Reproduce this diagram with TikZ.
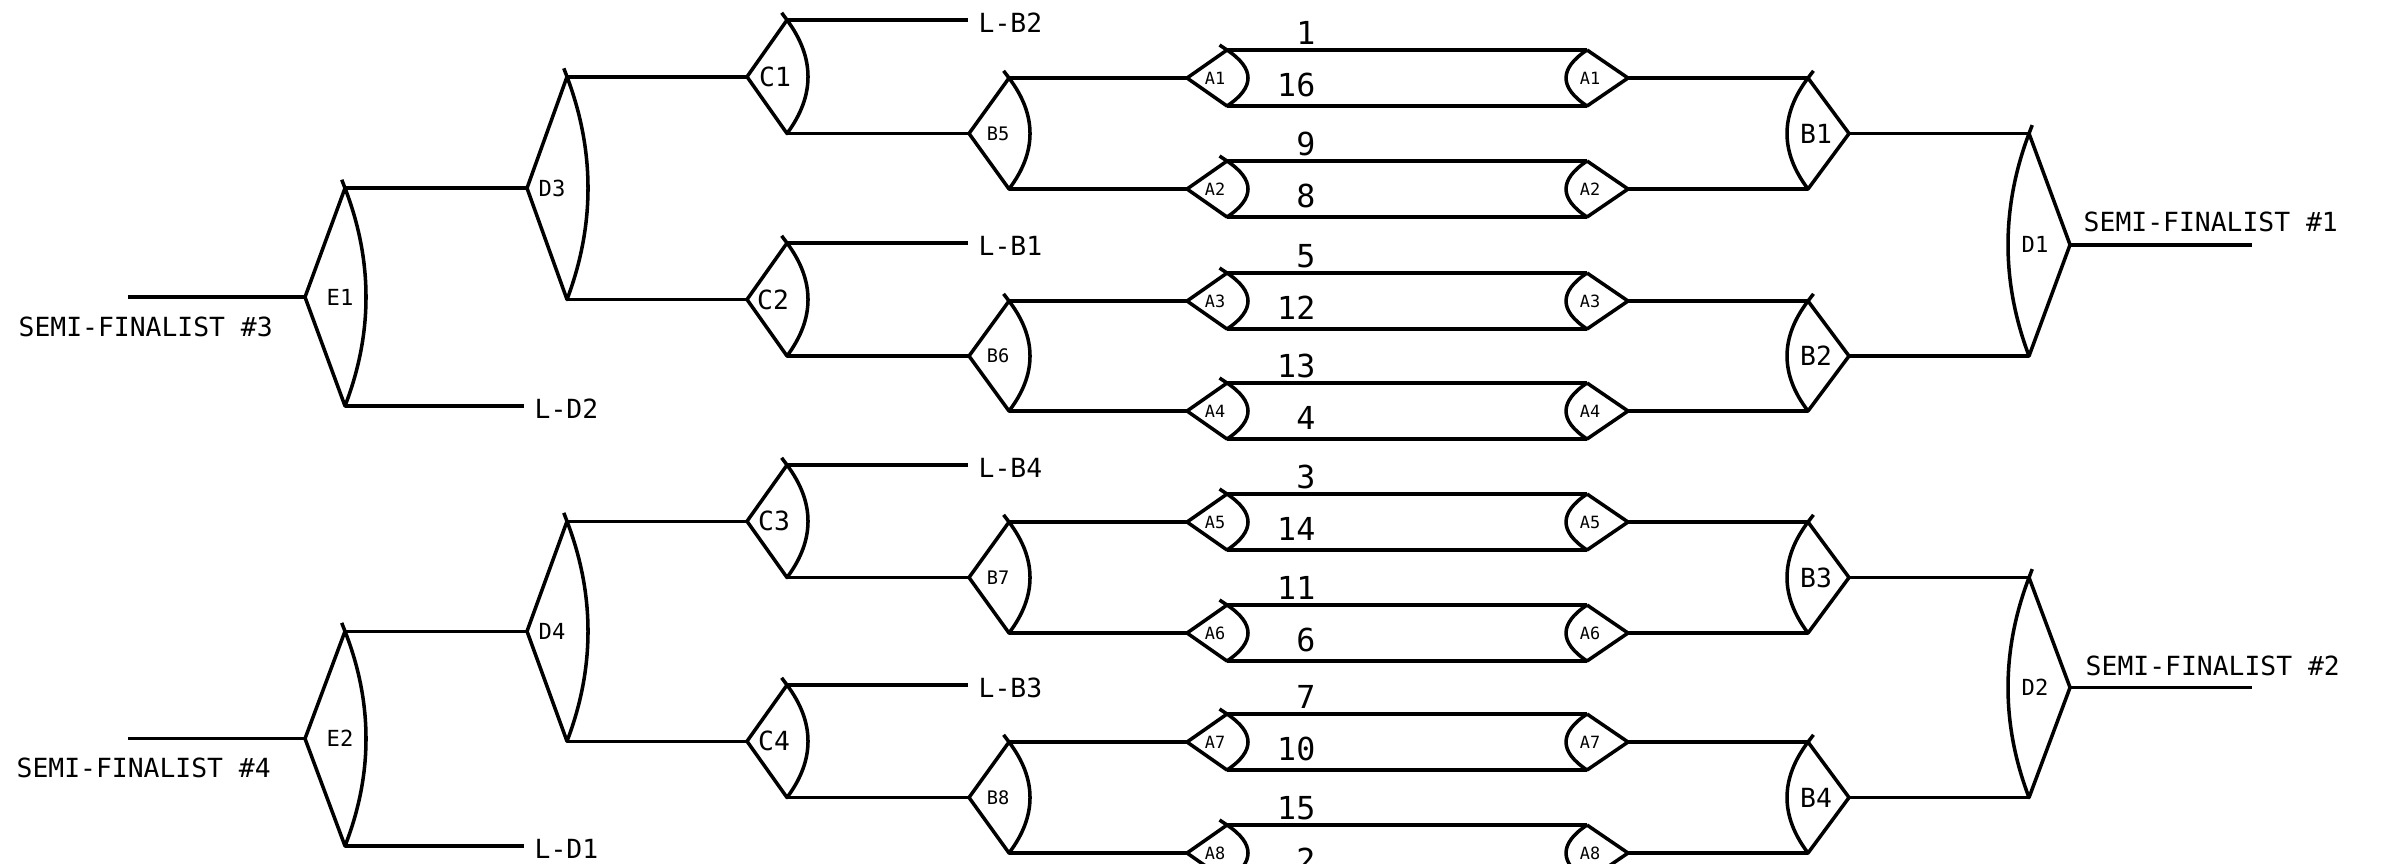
\documentclass[tikz,border=0pt]{standalone}
\usepackage{fontspec}
\newfontfamily\plotfont{DejaVu Sans Mono}
% left-facing game: tip on the left, arc on the right
\newcommand{\gameL}[7]{%
  \pgfmathsetmacro{\gmid}{((#4)+(#5))/2}%
  \pgfmathsetmacro{\gvx}{(#3)+40}%
  \pgfmathsetmacro{\gca}{(2*(#4)+(#5))/3}%
  \pgfmathsetmacro{\gcb}{((#4)+2*(#5))/3}%
  \pgfmathsetmacro{\glen}{sqrt(28*28+(((#5)-(#4))/3)^2)}%
  \pgfmathsetmacro{\gtx}{\gvx-9*28/\glen}%
  \pgfmathsetmacro{\gty}{(#4)-9*(((#5)-(#4))/3)/\glen}%
  \coordinate (#1-tip) at (#3,\gmid);
  \coordinate (#1-t) at (\gvx,#4);
  \coordinate (#1-b) at (\gvx,#5);
  \draw[game] (#1-t) -- (#1-tip) -- (#1-b) .. controls ({\gvx+28},\gcb) and ({\gvx+28},\gca) .. (#1-t) -- (\gtx,\gty);
  \node[#6] (#1) at ({(#3)+(#7)},\gmid) {#2};
}
% right-facing game: arc on the left, tip on the right
\newcommand{\gameR}[8]{%
  \pgfmathsetmacro{\gmid}{((#4)+(#5))/2}%
  \pgfmathsetmacro{\gca}{(2*(#4)+(#5))/3}%
  \pgfmathsetmacro{\gcb}{((#4)+2*(#5))/3}%
  \pgfmathsetmacro{\glen}{sqrt(28*28+(((#5)-(#4))/3)^2)}%
  \pgfmathsetmacro{\gtx}{(#3)+(#8)*28/\glen}%
  \pgfmathsetmacro{\gty}{(#4)-(#8)*(((#5)-(#4))/3)/\glen}%
  \coordinate (#1-t) at (#3,#4);
  \coordinate (#1-b) at (#3,#5);
  \coordinate (#1-tip) at ({(#3)+41},\gmid);
  \draw[game] (#1-t) -- (#1-tip) -- (#1-b) .. controls ({(#3)-28},\gcb) and ({(#3)-28},\gca) .. (#1-t) -- (\gtx,\gty);
  \node[#6] (#1) at ({(#3)+(#7)},\gmid) {#2};
}
\tikzset{
  wire/.style={line width=1pt},
  game/.style={line width=1pt, line join=round},
  lbl/.style={inner sep=0pt, font=\plotfont\fontsize{7.5}{8.5}\selectfont},
  elbl/.style={inner sep=0pt, font=\plotfont\fontsize{6.3}{7}\selectfont},
  blbl/.style={inner sep=0pt, font=\plotfont\fontsize{5.3}{6}\selectfont},
  albl/.style={inner sep=0pt, font=\plotfont\fontsize{4.8}{5.5}\selectfont},
  seed/.style={inner sep=0pt, anchor=east, font=\plotfont\fontsize{9}{10}\selectfont},
}
\begin{document}
\begin{tikzpicture}[x=0.01cm,y=-0.01cm]
\fill[white] (0,0) rectangle (2383,863);
\useasboundingbox (0,0) rectangle (2383,863);

% ---------- left (losers) side ----------
\gameL{E1}{E1}{305}{188.125}{406}{elbl}{35}
\gameL{E2}{E2}{305}{631.25}{846}{elbl}{35}
\gameL{D3}{D3}{527}{76.75}{299.5}{elbl}{25}
\gameL{D4}{D4}{527}{521.25}{741.25}{elbl}{25}
\gameL{C1}{C1}{747}{20}{133.5}{lbl}{28}
\gameL{C2}{C2}{747}{243}{356}{lbl}{26}
\gameL{C3}{C3}{747}{465}{577.5}{lbl}{27}
\gameL{C4}{C4}{747}{685}{797.5}{lbl}{27}
\gameL{B5}{B5}{969}{78}{189}{blbl}{29}
\gameL{B6}{B6}{969}{301}{411}{blbl}{29}
\gameL{B7}{B7}{969}{522}{633}{blbl}{29}
\gameL{B8}{B8}{969}{742}{853}{blbl}{29}

% ---------- first round ----------
\foreach \k/\a/\s/\t in {1/78/1/16, 2/189/9/8, 3/301/5/12, 4/411/13/4,
                         5/522/3/14, 6/633/11/6, 7/742/7/10, 8/853/15/2}{
  \gameL{AL\k}{A\k}{1187}{\a-28}{\a+28}{albl}{28}
  \gameR{AR\k}{A\k}{1587}{\a-28}{\a+28}{albl}{3}{0}
  \node[seed] (sT\k) at (1316,\a-45) {\s};
  \node[seed] (sB\k) at (1316,\a+7) {\t};
  \draw[wire] (AL\k-t) -- (AR\k-t);
  \draw[wire] (AL\k-b) -- (AR\k-b);
}

% ---------- right (winners) side ----------
\gameR{B1}{B1}{1808}{78}{189}{lbl}{8}{9}
\gameR{B2}{B2}{1808}{301}{411}{lbl}{8}{9}
\gameR{B3}{B3}{1808}{522}{633}{lbl}{8}{9}
\gameR{B4}{B4}{1808}{742}{853}{lbl}{8}{9}
\gameR{D1}{D1}{2029}{133.5}{356}{elbl}{6}{9}
\gameR{D2}{D2}{2029}{577.5}{797.5}{elbl}{6}{9}

% ---------- free ends ----------
\coordinate (sf3) at (128,297.0625);
\coordinate (sf4) at (128,738.625);
\coordinate (ld2) at (524,406);
\coordinate (ld1) at (524,846);
\coordinate (lb2) at (968,20);
\coordinate (lb1) at (968,243);
\coordinate (lb4) at (968,465);
\coordinate (lb3) at (968,685);
\coordinate (sf1) at (2252,244.75);
\coordinate (sf2) at (2252,687.5);

% ---------- connectors ----------
\draw[wire] (sf3) -- (E1-tip);
\draw[wire] (sf4) -- (E2-tip);
\draw[wire] (E1-t) -- (D3-tip);
\draw[wire] (E1-b) -- (ld2);
\draw[wire] (E2-t) -- (D4-tip);
\draw[wire] (E2-b) -- (ld1);
\draw[wire] (D3-t) -- (C1-tip);
\draw[wire] (D3-b) -- (C2-tip);
\draw[wire] (D4-t) -- (C3-tip);
\draw[wire] (D4-b) -- (C4-tip);
\draw[wire] (C1-t) -- (lb2);
\draw[wire] (C1-b) -- (B5-tip);
\draw[wire] (C2-t) -- (lb1);
\draw[wire] (C2-b) -- (B6-tip);
\draw[wire] (C3-t) -- (lb4);
\draw[wire] (C3-b) -- (B7-tip);
\draw[wire] (C4-t) -- (lb3);
\draw[wire] (C4-b) -- (B8-tip);
\foreach \b/\u/\v in {5/1/2, 6/3/4, 7/5/6, 8/7/8}{
  \draw[wire] (B\b-t) -- (AL\u-tip);
  \draw[wire] (B\b-b) -- (AL\v-tip);
}
\foreach \b/\u/\v in {1/1/2, 2/3/4, 3/5/6, 4/7/8}{
  \draw[wire] (AR\u-tip) -- (B\b-t);
  \draw[wire] (AR\v-tip) -- (B\b-b);
}
\draw[wire] (B1-tip) -- (D1-t);
\draw[wire] (B2-tip) -- (D1-b);
\draw[wire] (B3-tip) -- (D2-t);
\draw[wire] (B4-tip) -- (D2-b);
\draw[wire] (D1-tip) -- (sf1);
\draw[wire] (D2-tip) -- (sf2);

% ---------- texts ----------
\node[lbl, anchor=west] (tsf3) at (18,327) {SEMI-FINALIST \#3};
\node[lbl, anchor=west] (tsf4) at (16,768) {SEMI-FINALIST \#4};
\node[lbl, anchor=west] (tsf1) at (2083,222) {SEMI-FINALIST \#1};
\node[lbl, anchor=west] (tsf2) at (2085,666) {SEMI-FINALIST \#2};
\node[lbl, anchor=west] (tld2) at (534,409) {L-D2};
\node[lbl, anchor=west] (tld1) at (534,849) {L-D1};
\node[lbl, anchor=west] (tlb2) at (978,23) {L-B2};
\node[lbl, anchor=west] (tlb1) at (978,246) {L-B1};
\node[lbl, anchor=west] (tlb4) at (978,468) {L-B4};
\node[lbl, anchor=west] (tlb3) at (978,688) {L-B3};
\end{tikzpicture}
\end{document}
